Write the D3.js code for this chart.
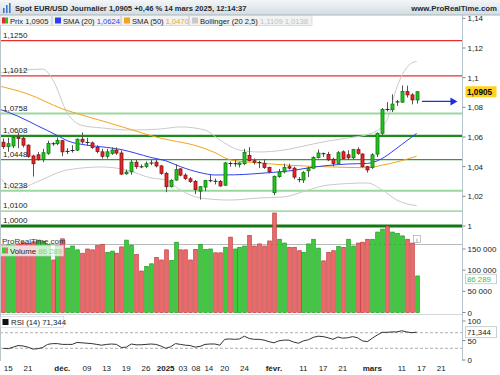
<!DOCTYPE html>
<html><head><meta charset="utf-8">
<script src="https://cdn.jsdelivr.net/npm/d3@7"></script>
<style>body{margin:0;background:#fff}svg{display:block}text{font-family:"Liberation Sans",Arial,sans-serif}</style>
</head><body><svg id="c" width="500" height="375"></svg>
<script>
// ---------- DATA ----------
const candles = [
["2024-11-14",1.0565,1.0590,1.0520,1.0535],["2024-11-15",1.0535,1.0595,1.0500,1.0555],["2024-11-18",1.0540,1.0608,1.0525,1.0597],
["2024-11-19",1.0600,1.0630,1.0525,1.0590],["2024-11-20",1.0592,1.0610,1.0530,1.0545],["2024-11-21",1.0545,1.0550,1.0460,1.0470],
["2024-11-22",1.0472,1.0480,1.0333,1.0420],["2024-11-25",1.0480,1.0500,1.0440,1.0447],["2024-11-26",1.0447,1.0520,1.0430,1.0494],
["2024-11-27",1.0490,1.0575,1.0480,1.0557],["2024-11-28",1.0557,1.0565,1.0540,1.0552],["2024-11-29",1.0555,1.0597,1.0545,1.0577],
["2024-12-02",1.0575,1.0580,1.0470,1.0500],["2024-12-03",1.0500,1.0525,1.0485,1.0506],["2024-12-04",1.0505,1.0545,1.0495,1.0512],
["2024-12-05",1.0512,1.0590,1.0505,1.0585],["2024-12-06",1.0585,1.0630,1.0555,1.0567],["2024-12-09",1.0567,1.0595,1.0540,1.0560],
["2024-12-10",1.0560,1.0570,1.0520,1.0530],["2024-12-11",1.0530,1.0545,1.0490,1.0502],["2024-12-12",1.0500,1.0520,1.0455,1.0470],
["2024-12-13",1.0470,1.0520,1.0455,1.0500],["2024-12-16",1.0490,1.0530,1.0480,1.0512],["2024-12-17",1.0512,1.0530,1.0480,1.0492],
["2024-12-18",1.0492,1.0510,1.0345,1.0350],["2024-12-19",1.0352,1.0380,1.0345,1.0364],["2024-12-20",1.0365,1.0445,1.0345,1.0430],
["2024-12-23",1.0430,1.0445,1.0385,1.0400],["2024-12-24",1.0400,1.0415,1.0390,1.0398],["2024-12-26",1.0402,1.0435,1.0390,1.0420],
["2024-12-27",1.0422,1.0445,1.0410,1.0427],["2024-12-30",1.0430,1.0450,1.0395,1.0405],["2024-12-31",1.0405,1.0410,1.0345,1.0355],
["2025-01-02",1.0355,1.0365,1.0228,1.0265],["2025-01-03",1.0265,1.0315,1.0260,1.0308],["2025-01-06",1.0310,1.0415,1.0305,1.0380],
["2025-01-07",1.0385,1.0390,1.0335,1.0343],["2025-01-08",1.0343,1.0355,1.0310,1.0320],["2025-01-09",1.0318,1.0330,1.0290,1.0300],
["2025-01-10",1.0300,1.0310,1.0215,1.0245],["2025-01-13",1.0235,1.0270,1.0178,1.0265],["2025-01-14",1.0262,1.0310,1.0235,1.0306],
["2025-01-15",1.0303,1.0345,1.0295,1.0308],["2025-01-16",1.0303,1.0320,1.0280,1.0300],["2025-01-17",1.0300,1.0310,1.0265,1.0270],
["2025-01-20",1.0275,1.0432,1.0270,1.0425],["2025-01-21",1.0425,1.0435,1.0400,1.0418],["2025-01-22",1.0418,1.0445,1.0400,1.0422],
["2025-01-23",1.0415,1.0430,1.0395,1.0425],["2025-01-24",1.0420,1.0520,1.0410,1.0495],["2025-01-27",1.0475,1.0532,1.0435,1.0440],
["2025-01-28",1.0440,1.0455,1.0415,1.0430],["2025-01-29",1.0430,1.0440,1.0390,1.0425],["2025-01-30",1.0423,1.0450,1.0385,1.0395],
["2025-01-31",1.0395,1.0400,1.0355,1.0365],["2025-02-03",1.0225,1.0340,1.0208,1.0335],["2025-02-04",1.0333,1.0385,1.0325,1.0365],
["2025-02-05",1.0365,1.0420,1.0355,1.0395],["2025-02-06",1.0400,1.0420,1.0380,1.0390],["2025-02-07",1.0390,1.0400,1.0315,1.0330],
["2025-02-10",1.0315,1.0330,1.0295,1.0310],["2025-02-11",1.0310,1.0370,1.0290,1.0360],["2025-02-12",1.0372,1.0400,1.0330,1.0390],
["2025-02-13",1.0390,1.0470,1.0385,1.0462],["2025-02-14",1.0462,1.0515,1.0455,1.0492],["2025-02-17",1.0490,1.0495,1.0465,1.0485],
["2025-02-18",1.0482,1.0500,1.0438,1.0446],["2025-02-19",1.0450,1.0460,1.0402,1.0422],["2025-02-20",1.0422,1.0505,1.0415,1.0494],
["2025-02-21",1.0500,1.0510,1.0450,1.0455],["2025-02-24",1.0480,1.0510,1.0445,1.0460],["2025-02-25",1.0460,1.0520,1.0450,1.0515],
["2025-02-26",1.0515,1.0530,1.0480,1.0490],["2025-02-27",1.0485,1.0490,1.0395,1.0400],["2025-02-28",1.0400,1.0405,1.0360,1.0378],
["2025-03-03",1.0395,1.0490,1.0385,1.0480],["2025-03-04",1.0485,1.0630,1.0465,1.0625],["2025-03-05",1.0625,1.0795,1.0610,1.0786],
["2025-03-06",1.0787,1.0835,1.0772,1.0785],["2025-03-07",1.0784,1.0888,1.0768,1.0822],["2025-03-10",1.0835,1.0850,1.0810,1.0838],
["2025-03-11",1.0835,1.0947,1.0830,1.0907],["2025-03-12",1.0906,1.0946,1.0866,1.0884],["2025-03-13",1.0884,1.0895,1.0820,1.0850],
["2025-03-14",1.0850,1.0910,1.0825,1.0905]];
const prevClose = 1.0565;
const holidays = ["2024-12-25","2025-01-01"];

const volumes = [158000,160000,158000,162000,165000,163000,167000,171000,168000,160000,
124000,158000,174000,152000,157000,148000,140000,150000,148000,158000,
161000,142000,145000,140000,155000,171000,159000,137000,98000,109000,
115000,130000,124000,148000,123000,166000,148000,148000,124000,149000,
161000,149000,150000,141000,141000,154000,178000,150000,154000,157000,
182000,157000,162000,157000,169000,235000,173000,164000,154000,154000,
146000,142000,162000,173000,152000,122000,142000,146000,156000,154000,
173000,157000,164000,166000,173000,173000,190000,197000,204000,190000,
187000,181000,173000,164000,86289];

const rsi = [30,29,33,37,36,33,28,29,32,40, 42,42,40,40,40,45,44,43,42,40,
38,40,41,40,32,33,41,39,39,40, 41,40,36,30,34,42,40,38,37,33,
35,40,41,41,38,53,54,53,54,61, 55,53,53,51,47,44,49,51,51,46,
43,49,52,58,61,60,57,53,59,56, 57,60,57,49,47,56,64,71,71,72,
72,75,72,70,71.344];

const sma20 = [["2024-11-13",1.0790],["2024-11-19",1.0740],["2024-11-25",1.0675],["2024-11-29",1.0610],["2024-12-03",1.0575],
["2024-12-09",1.0545],["2024-12-13",1.0530],["2024-12-18",1.0515],["2024-12-23",1.0490],["2024-12-27",1.0462],["2025-01-02",1.0440],
["2025-01-07",1.0400],["2025-01-13",1.0360],["2025-01-16",1.0344],["2025-01-22",1.0345],["2025-01-28",1.0352],["2025-02-03",1.0362],
["2025-02-07",1.0375],["2025-02-12",1.0392],["2025-02-18",1.0408],["2025-02-24",1.0418],["2025-02-28",1.0422],["2025-03-03",1.0428],
["2025-03-05",1.0455],["2025-03-07",1.0500],["2025-03-11",1.0550],["2025-03-14",1.0624]];

const sma50 = [["2024-11-13",1.0945],["2024-11-21",1.0890],["2024-12-02",1.0790],["2024-12-04",1.0768],["2024-12-13",1.0700],
["2024-12-20",1.0650],["2024-12-30",1.0600],["2025-01-03",1.0578],["2025-01-10",1.0543],["2025-01-16",1.0495],["2025-01-21",1.0447],
["2025-01-29",1.0425],["2025-02-06",1.0410],["2025-02-14",1.0401],["2025-02-21",1.0396],["2025-02-28",1.0393],["2025-03-05",1.0410],
["2025-03-10",1.0432],["2025-03-14",1.0470]];

const bollUpper = [["2024-11-13",1.1030],["2024-11-20",1.1050],["2024-11-26",1.1058],["2024-11-28",1.0990],["2024-12-03",1.0762],
["2024-12-06",1.0678],["2024-12-12",1.0661],["2024-12-20",1.0647],["2024-12-31",1.0654],["2025-01-07",1.0668],["2025-01-14",1.0647],
["2025-01-17",1.0580],["2025-01-23",1.0512],["2025-01-29",1.0499],["2025-02-05",1.0512],["2025-02-12",1.0546],["2025-02-18",1.0573],
["2025-02-24",1.0593],["2025-03-03",1.0627],["2025-03-06",1.0715],["2025-03-10",1.0937],["2025-03-13",1.1099],["2025-03-14",1.1109]];

const bollLower = [["2024-11-13",1.0330],["2024-11-19",1.0250],["2024-11-25",1.0300],["2024-12-03",1.0378],["2024-12-12",1.0398],
["2024-12-19",1.0378],["2024-12-27",1.0324],["2025-01-02",1.0310],["2025-01-07",1.0243],["2025-01-13",1.0189],["2025-01-21",1.0175],
["2025-01-29",1.0189],["2025-02-05",1.0196],["2025-02-12",1.0243],["2025-02-18",1.0276],["2025-02-28",1.0290],["2025-03-05",1.0243],
["2025-03-10",1.0175],["2025-03-13",1.0142],["2025-03-14",1.0138]];

const levels = [1.1250,1.1012,1.0758,1.0608,1.0448,1.0238,1.0100,1.0000];
const levelLabels = ["1,1250","1,1012","1,0758","1,0608","1,0448","1,0238","1,0100","1,0000"];
const arrowLevel = 1.0840;

const priceTicks = [1.14,1.12,1.10,1.08,1.06,1.04,1.02,1.00];
const priceTickLabels = ["1,14","1,12","1,1","1,08","1,06","1,04","1,02","1"];
const volTicks = [150000,100000,50000,0];
const volTickLabels = ["150 000","100 000","50 000","0"];
const rsiTicks = [100,50,0];
const rsiLevels = [70,30];

const xTicks = [["2024-11-15","15"],["2024-11-21","21"],["2024-12-02","déc."],["2024-12-09","09"],["2024-12-13","13"],
["2024-12-19","19"],["2024-12-26","26"],["2025-01-02","2025"],["2025-01-03","03"],["2025-01-08","08"],["2025-01-14","14"],
["2025-01-20","20"],["2025-01-24","24"],["2025-02-03","févr."],["2025-02-11","11"],["2025-02-17","17"],["2025-02-21","21"],
["2025-03-03","mars"],["2025-03-11","11"],["2025-03-17","17"],["2025-03-21","21"]];
const boldTicks = ["déc.","2025","févr.","mars"];

const titleText = "Spot EUR/USD Journalier 1,0905 +0,46 % 14 mars 2025, 12:14:37";
const lastPrice = "1,0905", lastSma20="1,0624", lastSma50="1,0470", lastBoll="1,1109 1,0138", lastVol="86 289", lastRsi="71,344";

// ---------- HELPERS ----------
const t0 = Date.UTC(2024,10,14);
function idx(ds){
  const t = Date.parse(ds+"T00:00:00Z");
  let n=0; const step = t>=t0?1:-1; let d=new Date(t0);
  while(d.getTime()!==t){
    d.setUTCDate(d.getUTCDate()+step);
    const wd=d.getUTCDay(), s=d.toISOString().slice(0,10);
    if(wd!==0&&wd!==6&&!holidays.includes(s)) n+=step;
  }
  return n;
}

const svg = d3.select("#c");
const x = d3.scaleLinear().domain([0,84]).range([3.3,416.6]);
const yP = d3.scaleLinear().domain([1.0,1.12]).range([226,48]);
const yV = d3.scaleLinear().domain([0,150000]).range([312.5,249]);
const yR = d3.scaleLinear().domain([0,100]).range([360,321]);
const AX = 462.5;

const defs = svg.append("defs");
const g1 = defs.append("linearGradient").attr("id","tb").attr("x1",0).attr("x2",0).attr("y1",0).attr("y2",1);
g1.append("stop").attr("offset","0").attr("stop-color","#f3f6f8");
g1.append("stop").attr("offset","1").attr("stop-color","#d3dce1");
defs.append("clipPath").attr("id","cp").append("rect").attr("x",0).attr("y",15).attr("width",AX).attr("height",213);
defs.append("clipPath").attr("id","cr").append("rect").attr("x",0).attr("y",315).attr("width",AX).attr("height",46);

// ---------- PRICE PANEL ----------
const gp = svg.append("g").attr("clip-path","url(#cp)");
const lvlStyle = [["#e53030",1.2],["#e53030",1.2],["#9bd89b",2],["#1e8a1e",2.2],["#3a963a",1.2],["#9bd89b",2],["#a9dca9",1.6],["#127812",3]];
levels.forEach((v,i)=>{
  gp.append("line").attr("x1",0).attr("x2",AX).attr("y1",yP(v)).attr("y2",yP(v))
    .attr("stroke",lvlStyle[i][0]).attr("stroke-width",lvlStyle[i][1]);
});

const line = d3.line().x(d=>x(idx(d[0]))).y(d=>yP(d[1])).curve(d3.curveMonotoneX);
gp.append("path").attr("d",line(bollUpper)).attr("fill","none").attr("stroke","#c9c9c9").attr("stroke-width",1);
gp.append("path").attr("d",line(bollLower)).attr("fill","none").attr("stroke","#c9c9c9").attr("stroke-width",1);
gp.append("path").attr("d",line(sma50)).attr("fill","none").attr("stroke","#f7a21d").attr("stroke-width",1);
gp.append("path").attr("d",line(sma20)).attr("fill","none").attr("stroke","#2f3ff0").attr("stroke-width",1);

levels.forEach((v,i)=>{
  gp.append("text").attr("x",3).attr("y",yP(v)-3).attr("font-size",8).attr("fill","#222").text(levelLabels[i]);
});

// candles
candles.forEach((c,i)=>{
  const [ds,o,h,l,cl]=c; const cx=Math.round(x(i))+0.5;
  gp.append("line").attr("x1",cx).attr("x2",cx).attr("y1",yP(h)).attr("y2",yP(l)).attr("stroke","#555").attr("stroke-width",1);
  const top=yP(Math.max(o,cl)), bot=yP(Math.min(o,cl));
  if(bot-top<1.2){
    gp.append("line").attr("x1",cx-2).attr("x2",cx+2).attr("y1",(top+bot)/2).attr("y2",(top+bot)/2).attr("stroke","#222").attr("stroke-width",1);
  } else {
    const up = cl>=o;
    gp.append("rect").attr("x",cx-1.5).attr("y",top).attr("width",3).attr("height",bot-top)
      .attr("fill",up?"#22c422":"#e5262a").attr("stroke",up?"#0b7d0b":"#8c1010").attr("stroke-width",0.8);
  }
});

// arrow
const ax1=x(85.1), ax2=x(92.3), ay=yP(arrowLevel);
gp.append("line").attr("x1",ax1).attr("x2",ax2-5).attr("y1",ay).attr("y2",ay).attr("stroke","#1c2fe0").attr("stroke-width",1.4);
gp.append("path").attr("d",`M${ax2-7},${ay-4}L${ax2},${ay}L${ax2-7},${ay+4}Z`).attr("fill","#1c2fe0");

// ---------- VOLUME ----------
const gv = svg.append("g");
gv.append("line").attr("x1",0).attr("x2",AX).attr("y1",244.5).attr("y2",244.5).attr("stroke","#b9b9b9").attr("stroke-width",1);
volumes.forEach((v,i)=>{
  const pc = i===0?prevClose:candles[i-1][4];
  const up = candles[i][4]>=pc;
  const cx=Math.round(x(i))+0.5;
  gv.append("rect").attr("x",cx-1.8).attr("y",yV(v)).attr("width",3.6).attr("height",yV(0)-yV(v))
    .attr("fill",up?"#3fcb3f":"#ea6c6c").attr("stroke",up?"#1b9a1b":"#c03838").attr("stroke-width",0.7);
});
svg.append("line").attr("x1",0).attr("x2",AX).attr("y1",314.5).attr("y2",314.5).attr("stroke","#d0d8dc");

// ---------- RSI ----------
const gr = svg.append("g").attr("clip-path","url(#cr)");
rsiLevels.forEach(v=>{
  gr.append("line").attr("x1",0).attr("x2",AX).attr("y1",yR(v)).attr("y2",yR(v)).attr("stroke","#999").attr("stroke-dasharray","3,2").attr("stroke-width",0.8);
});
gr.append("path").attr("d",d3.line().x((d,i)=>x(i)).y(d=>yR(d))(rsi)).attr("fill","none").attr("stroke","#333").attr("stroke-width",1);

// ---------- AXES ----------
svg.append("line").attr("x1",AX).attr("x2",AX).attr("y1",15).attr("y2",361).attr("stroke","#b4c6cb").attr("stroke-width",1);
svg.append("line").attr("x1",0.5).attr("x2",0.5).attr("y1",15).attr("y2",361).attr("stroke","#b8c4c8").attr("stroke-width",1);
function rtick(y,label,col){
  svg.append("line").attr("x1",AX).attr("x2",AX+3).attr("y1",y).attr("y2",y).attr("stroke","#888");
  svg.append("text").attr("x",AX+5).attr("y",y+3).attr("font-size",8).attr("fill",col||"#222").text(label);
}
priceTicks.forEach((v,i)=>rtick(yP(v),priceTickLabels[i]));
volTicks.forEach((v,i)=>rtick(yV(v),volTickLabels[i]));
rsiTicks.forEach(v=>rtick(yR(v),String(v)));

// last value labels
function box(y,txt,fill,col,bold,stroke,h){
  h=h||11;
  svg.append("rect").attr("x",AX+3).attr("y",y-h/2).attr("width",31).attr("height",h).attr("fill",fill).attr("stroke",stroke||"none").attr("stroke-width",0.8);
  svg.append("text").attr("x",AX+4.5).attr("y",y+3).attr("font-size",bold?8.2:7.8).attr("font-weight",bold?"bold":"normal").attr("fill",col).text(txt);
}
box(yP(1.0905),lastPrice,"#ffd21f","#000",true);
box(yV(86289)+3,lastVol,"#fff","#3cc23c",false,"#b9c4c8",9.5);
box(yR(71.344),lastRsi,"#fff","#222",false,"#b9c4c8");

// x labels, pushed right when they would collide
let prevRight = -1e9;
xTicks.forEach(t=>{
  const b = boldTicks.includes(t[1]);
  const tx = svg.append("text").attr("y",371).attr("font-size",8)
    .attr("font-weight",b?"bold":"normal").attr("fill","#222").text(t[1]);
  const w = tx.node().getComputedTextLength();
  let left = x(idx(t[0])) - w/2;
  if (left < prevRight + 4) left = prevRight + 4;
  tx.attr("x",left);
  prevRight = left + w;
});

// ---------- HEADER ----------
svg.append("rect").attr("x",0).attr("y",0).attr("width",500).attr("height",15).attr("fill","url(#tb)");
svg.append("line").attr("x1",0).attr("x2",500).attr("y1",15).attr("y2",15).attr("stroke","#a9b6bc");
[[3,8,5],[6,5,8],[9,3,10]].forEach(b=>svg.append("rect").attr("x",b[0]).attr("y",b[1]).attr("width",1.6).attr("height",b[2]).attr("fill","#3b78cf"));
const tt = svg.append("text").attr("x",15).attr("y",10.5).attr("font-weight","bold").attr("font-size",10).attr("fill","#1e2a30").text(titleText);
tt.attr("font-size", 10*232/tt.node().getComputedTextLength());
const ww = svg.append("text").attr("x",497).attr("y",10.5).attr("text-anchor","end").attr("font-weight","bold").attr("font-size",10).attr("fill","#1e2a30").text("www.ProRealTime.com");
ww.attr("font-size",10*86/ww.node().getComputedTextLength());

// legend row
const lg = svg.append("g");
lg.append("rect").attr("x",0).attr("y",15.5).attr("width",312).attr("height",10).attr("fill","#f1f2f2").attr("stroke","#c5c9cb").attr("stroke-width",0.6);
[52,121,189].forEach(s=>lg.append("line").attr("x1",s).attr("x2",s).attr("y1",16).attr("y2",25).attr("stroke","#c0c4c6"));
lg.append("rect").attr("x",2).attr("y",17.5).attr("width",3).attr("height",6).attr("fill","#e5262a");
lg.append("rect").attr("x",5).attr("y",17.5).attr("width",3).attr("height",6).attr("fill","#22c422");
function ltext(x0,parts){
  const t=lg.append("text").attr("x",x0).attr("y",23.5).attr("font-size",7.6);
  parts.forEach(p=>t.append("tspan").attr("fill",p[1]).text(p[0]));
}
ltext(10,[["Prix ","#222"],[lastPrice,"#222"]]);
lg.append("rect").attr("x",55).attr("y",17.5).attr("width",6).attr("height",6).attr("fill","#2f3ff0");
ltext(63,[["SMA (20) ","#222"],[lastSma20,"#2f3ff0"]]);
lg.append("rect").attr("x",124).attr("y",17.5).attr("width",6).attr("height",6).attr("fill","#f7a21d");
ltext(132,[["SMA (50) ","#222"],[lastSma50,"#f7a21d"]]);
lg.append("rect").attr("x",192).attr("y",17.5).attr("width",6).attr("height",6).attr("fill","#c9c9c9");
ltext(200,[["Bollinger (20 2,5) ","#222"],[lastBoll,"#c0c0c0"]]);

// volume legend
svg.append("text").attr("x",2).attr("y",243.5).attr("font-size",8).attr("fill","#333").text("ProRealTime.com");
svg.append("rect").attr("x",0.5).attr("y",245.5).attr("width",63).attr("height",10.5).attr("fill","#fff").attr("fill-opacity",0.75).attr("stroke","#c5cccf").attr("stroke-width",0.6);
svg.append("rect").attr("x",2).attr("y",247.5).attr("width",3).attr("height",6).attr("fill","#3fcb3f");
svg.append("rect").attr("x",5).attr("y",247.5).attr("width",3).attr("height",6).attr("fill","#ea6c6c");
const vt=svg.append("text").attr("x",10).attr("y",253.8).attr("font-size",7.8);
vt.append("tspan").attr("fill","#222").text("Volume ");
vt.append("tspan").attr("fill","#7fd67f").text(lastVol);
svg.append("rect").attr("x",413.5).attr("y",235.5).attr("width",7).attr("height",7).attr("fill","#fff").attr("stroke","#999").attr("stroke-width",0.6);
svg.append("text").attr("x",417).attr("y",241.5).attr("text-anchor","middle").attr("font-size",6).attr("fill","#666").text("i");

// RSI legend
svg.append("rect").attr("x",0.5).attr("y",316.5).attr("width",63).attr("height",11).attr("fill","#fff").attr("stroke","#c5cccf").attr("stroke-width",0.6);
svg.append("rect").attr("x",2.5).attr("y",319).attr("width",6).attr("height",6).attr("fill","#111");
svg.append("text").attr("x",11).attr("y",325.3).attr("font-size",7.8).attr("fill","#222").text("RSI (14) "+lastRsi);
</script></body></html>
